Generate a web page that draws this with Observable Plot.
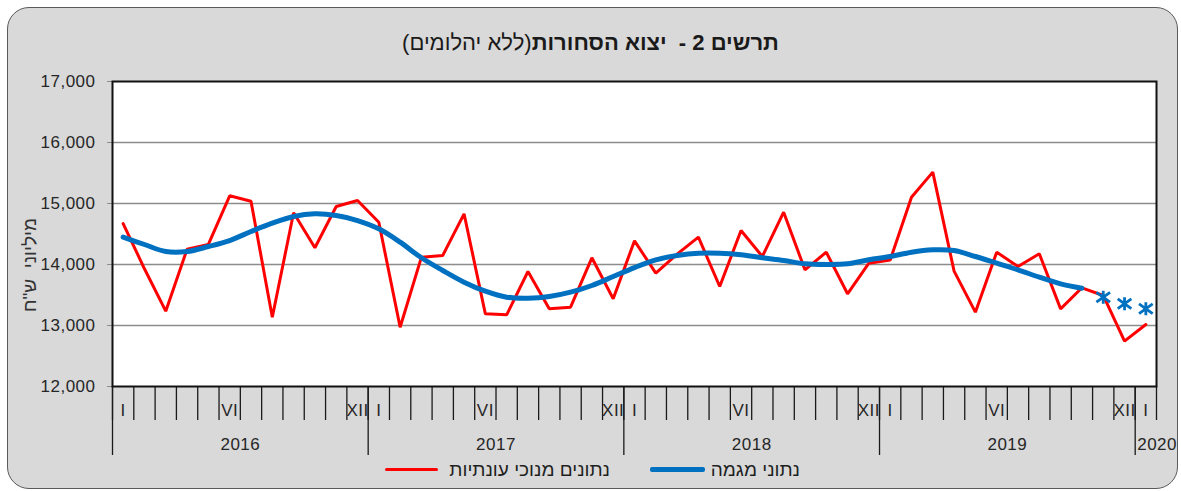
<!DOCTYPE html>
<html>
<head>
<meta charset="utf-8">
<script src="https://cdn.jsdelivr.net/npm/d3@7"></script>
<script src="https://cdn.jsdelivr.net/npm/@observablehq/plot@0.6"></script>
<style>
  html, body { margin: 0; padding: 0; background: #ffffff; }
  #page { position: relative; width: 1181px; height: 491px; font-family: "Liberation Sans", Arial, "DejaVu Sans", sans-serif; color: #262626; }
  #bg { position: absolute; left: 7px; top: 7px; width: 1171px; height: 482px; box-sizing: border-box; background: #d9d9d9; border: 1.5px solid #5a5a5a; border-radius: 22px; }
  #title { position: absolute; top: 31px; left: 0; width: 1181px; text-align: center; font-size: 22px; line-height: 24px; color: #1a1a1a; }
  #title b { font-weight: bold; }
  #chart { position: absolute; left: 0; top: 60px; }
  #chart svg g[aria-label="y-axis tick label"] text,
  #chart svg g[aria-label="x-axis tick label"] text { letter-spacing: 0.5px; }
  .leg { position: absolute; top: 460px; font-size: 19px; line-height: 20px; white-space: nowrap; color: #1f1f1f; }
  .sw { position: absolute; border-radius: 2px; }
</style>
</head>
<body>
<div id="page">
  <div id="bg"></div>
  <div id="title" dir="rtl"><b>תרשים 2&nbsp;-&nbsp; יצוא הסחורות</b>(ללא יהלומים)</div>
  <div id="chart"></div>
  <div class="sw" style="left:385px; top:468px; width:53px; height:3px; background:#ff0000;"></div>
  <div class="leg" dir="rtl" style="right:571px;">נתונים מנוכי עונתיות</div>
  <div class="sw" style="left:650px; top:467px; width:55px; height:5px; background:#0070c0;"></div>
  <div class="leg" dir="rtl" style="right:381px;">נתוני מגמה</div>
</div>
<script>
// ---- data ----
const years = ["2016", "2017", "2018", "2019", "2020"];
const monthsPerYear = [12, 12, 12, 12, 1];
const monthTickLabels = ["I", "", "", "", "", "VI", "", "", "", "", "", "XII"];
const yTicks = [12000, 13000, 14000, 15000, 16000, 17000];
const yLabel = "מיליוני  ש\"ח";

// seasonally adjusted (Jan 2016 .. Jan 2020)
const seasonallyAdjusted = [
  14670, 13930, 13235, 14250, 14330, 15126, 15038, 13136, 14848, 14274, 14951, 15049,
  14693, 12972, 14120, 14148, 14831, 13191, 13175, 13885, 13273, 13300, 14110, 13438,
  14388, 13858, 14169, 14448, 13639, 14557, 14131, 14858, 13913, 14202, 13520, 14022,
  14072, 15104, 15514, 13891, 13219, 14202, 13967, 14175, 13273, 13618, 13492, 12743,
  13016
];
// trend (Jan 2016 .. Oct 2019)
const trend = [
  14448, 14328, 14213, 14213, 14295, 14393, 14541, 14678, 14787, 14831, 14803, 14721,
  14585, 14366, 14110, 13902, 13710, 13562, 13464, 13448, 13475, 13546, 13656, 13803,
  13950, 14077, 14148, 14185, 14185, 14159, 14110, 14066, 14011, 14000, 14011, 14077,
  14130, 14202, 14241, 14230, 14131, 14022, 13913, 13792, 13683, 13612
];
// trend estimates (Nov 2019 .. Jan 2020), shown as markers
const trendEstimates = [13464, 13355, 13273];

// ---- build tables ----
const periods = [];
years.forEach((yr, yi) => {
  for (let m = 0; m < monthsPerYear[yi]; m++) periods.push({ year: yr, month: m, label: monthTickLabels[m] });
});
periods.forEach((p, i) => p.i = i);
const n = periods.length;

const saData = seasonallyAdjusted.map((v, i) => ({ i, v }));
const trendData = trend.map((v, i) => ({ i, v }));
const estData = trendEstimates.map((v, k) => ({ i: trend.length + k, v }));

const boundaries = d3.range(0, n + 1);
const yearStarts = [];
let acc = 0;
monthsPerYear.forEach(c => { yearStarts.push(acc); acc += c; });
const yearCenters = years.map((y, k) => ({ year: y, c: yearStarts[k] + monthsPerYear[k] / 2, full: monthsPerYear[k] === 12, start: yearStarts[k] }));
const labeledMonths = periods.filter(p => p.label !== "");
const monthLabelOf = new Map(labeledMonths.map(p => [p.i + 0.5, p.label]));
const fullYears = yearCenters.filter(d => d.full);
const partYears = yearCenters.filter(d => !d.full);

// Excel-style star marker: an X crossed by a vertical bar
const starSymbol = {
  draw(context, size) {
    const r = Math.sqrt(size / Math.PI);
    const h = r * 1.0, w = r * 1.05, d = r * 0.75;
    context.moveTo(0, -h); context.lineTo(0, h);
    context.moveTo(-w, -d); context.lineTo(w, d);
    context.moveTo(-w, d); context.lineTo(w, -d);
  }
};

const font = "'Liberation Sans', Arial, 'DejaVu Sans', sans-serif";
const plot = Plot.plot({
  width: 1181,
  height: 406,
  marginTop: 21,
  marginBottom: 80,
  marginLeft: 112,
  marginRight: 25,
  style: { background: "transparent", fontFamily: font, fontSize: "17px", color: "#262626", overflow: "visible" },
  x: { domain: [0, n] },
  y: { domain: [12000, 17000] },
  marks: [
    Plot.frame({ fill: "#ffffff", stroke: "none" }),
    Plot.gridY(yTicks.slice(1, -1), { stroke: "#8c8c8c", strokeOpacity: 1, strokeWidth: 1.3 }),
    Plot.axisY(yTicks, { tickSize: 5, tickPadding: 12, tickFormat: d3.format(","), fontSize: 17, stroke: "#8c8c8c", label: null }),
    // month boundaries
    Plot.axisX(boundaries, { tickSize: 34, tickFormat: () => "", stroke: "#1a1a1a", strokeWidth: 1.3, label: null }),
    // year boundaries
    Plot.axisX(yearStarts, { tickSize: 69, tickFormat: () => "", stroke: "#1a1a1a", strokeWidth: 1.3, label: null }),
    // month labels
    Plot.axisX(labeledMonths.map(p => p.i + 0.5), { tickSize: 0, tickPadding: 17, tickFormat: d => monthLabelOf.get(d), fontSize: 17, label: null }),
    // year labels
    Plot.axisX(fullYears.map(d => d.c), { tickSize: 0, tickPadding: 51, tickFormat: d => fullYears.find(e => e.c === d).year, fontSize: 17, label: null }),
    Plot.axisX(partYears.map(d => d.start), { tickSize: 0, tickPadding: 51, tickFormat: d => partYears.find(e => e.start === d).year, textAnchor: "start", dx: 2, fontSize: 17, label: null }),
    Plot.text([yLabel], { frameAnchor: "left", rotate: -90, dx: -83, dy: 31, textAnchor: "middle", fontSize: 19, fill: "#333333" }),
    Plot.line(saData, { x: d => d.i + 0.5, y: "v", stroke: "#ff0000", strokeWidth: 3, strokeLinejoin: "miter" }),
    Plot.line(trendData, { x: d => d.i + 0.5, y: "v", stroke: "#0070c0", strokeWidth: 5, curve: "catmull-rom" }),
    Plot.dot(estData, { x: d => d.i + 0.5, y: "v", symbol: starSymbol, r: 6.5, stroke: "#0070c0", strokeWidth: 2.8 }),
    Plot.frame({ stroke: "#111111", strokeWidth: 2 })
  ]
});
document.getElementById("chart").appendChild(plot);
</script>
</body>
</html>
